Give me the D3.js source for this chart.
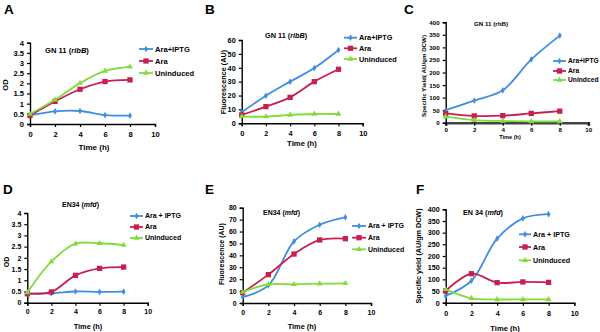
<!DOCTYPE html>
<html>
<head>
<meta charset="utf-8">
<script src="https://cdn.jsdelivr.net/npm/d3@7"></script>
<style>
  body { margin: 0; background: #fff; }
  text { font-family: "Liberation Sans", Arial, sans-serif; font-weight: bold; fill: #000; }
</style>
</head>
<body>
<div id="chart"></div>
<script>
// sampling times (h) and x ticks
var hours = [0, 2, 4, 6, 8];
var xTicks = [0, 2, 4, 6, 8, 10];

// y tick labels
var odTicks = [0, 0.5, 1, 1.5, 2, 2.5, 3, 3.5, 4];
var fluoTicksB = [0, 10, 20, 30, 40, 50, 60];
var fluoTicksE = [0, 10, 20, 30, 40, 50, 60, 70, 80];
var yieldTicks = [0, 50, 100, 150, 200, 250, 300, 350, 400];

// legend labels
var legendGN = ["Ara+IPTG", "Ara", "Uninduced"];
var legendGNc = ["Ara+IPTG", "Ara", "Unindced"];
var legendEN = ["Ara + IPTG", "Ara", "Uninduced"];

// A: GN 11 (ribB) OD
var odGNiptg = [0.42, 0.62, 0.64, 0.44, 0.41];
var odGNara = [0.42, 1.11, 1.71, 2.09, 2.17];
var odGNun = [0.49, 1.19, 2.01, 2.61, 2.81];
// B: GN 11 (ribB) fluorescence
var flGNiptg = [7.9, 19.9, 30, 39.8, 52.8];
var flGNara = [6, 12, 18.7, 30, 38.9];
var flGNun = [4.8, 4.8, 6, 6.7, 6.7];
// C: GN 11 (ribB) specific yield
var syGNiptg = [50, 88, 129, 252, 347];
var syGNara = [37, 27, 28, 37, 46];
var syGNun = [24, 10, 7, 5, 5];
// D: EN34 (mfd) OD
var odENiptg = [0.42, 0.42, 0.5, 0.48, 0.49];
var odENara = [0.4, 0.48, 1.22, 1.53, 1.59];
var odENun = [0.45, 1.83, 2.63, 2.65, 2.57];
// E: EN34 (mfd) fluorescence
var flENiptg = [5, 14.8, 51.7, 65.7, 71.9];
var flENara = [8.7, 23.8, 41.1, 52.9, 54];
var flENun = [9.2, 15.7, 15.7, 16.2, 16.5];
// F: EN 34 (mfd) specific yield
var syENiptg = [29, 94, 274, 361, 379];
var syENara = [50, 124, 86, 89, 87];
var syENun = [57, 19, 14, 14, 14];

var colors = ["#3f8ee0", "#c91f4f", "#7fdc3a"];
var shapes = [d3.symbolDiamond, d3.symbolSquare, d3.symbolTriangle];
var shapeSize = [13, 28, 15];

var svg = d3.select("#chart").append("svg")
    .attr("width", 600)
    .attr("height", 332);

var panels = [
  { letter: "A", lx: 4, ly: 14, x0: 30, x1: 155, yTop: 42.7, yBot: 124, yMax: 4, yTicks: odTicks,
    series: [odGNiptg, odGNara, odGNun], names: legendGN, fs: 7.6,
    title: ["GN 11 (", "ribB", ")"], tx: 45, ty: 53,
    legX: 139, legY: [49, 61, 73], legW: 14,
    yLabel: "OD", ylx: 8, yly: 85, xlx: 94, xly: 150, tickY: 137 },
  { letter: "B", lx: 205, ly: 14, x0: 241.7, x1: 362.7, yTop: 40, yBot: 123.3, yMax: 60, yTicks: fluoTicksB,
    series: [flGNiptg, flGNara, flGNun], names: legendGN, fs: 7.3,
    title: ["GN 11 (", "ribB", ")"], tx: 265, ty: 37.5,
    legX: 344, legY: [37.7, 48.3, 59], legW: 13,
    yLabel: "Fluorescence (AU)", ylx: 226, yly: 82, xlx: 302, xly: 146, tickY: 136 },
  { letter: "C", lx: 404, ly: 14, x0: 445.7, x1: 588.3, yTop: 22.3, yBot: 122.7, yMax: 400, yTicks: yieldTicks,
    series: [syGNiptg, syGNara, syGNun], names: legendGNc, fs: 6.2, thickX: true,
    title: ["GN 11 (", "rhB", ")"], tx: 474, ty: 26, titleUpright: true,
    legX: 553, legY: [61, 71, 80], legW: 13, legFs: 6.7,
    yLabel: "Specific Yield( AU/gm DCW)", ylx: 426, yly: 76, xlx: 510, xly: 139, tickY: 132, xlFs: 5.6 },
  { letter: "D", lx: 3, ly: 194, x0: 27.3, x1: 147.7, yTop: 213, yBot: 302.7, yMax: 4, yTicks: odTicks,
    series: [odENiptg, odENara, odENun], names: legendEN, fs: 7,
    title: ["EN34 (", "mfd", ")"], tx: 62, ty: 206.5,
    legX: 130, legY: [216, 227, 238], legW: 13,
    yLabel: "OD", ylx: 9, yly: 262, xlx: 88, xly: 329, tickY: 314 },
  { letter: "E", lx: 205, ly: 194, x0: 242.7, x1: 371, yTop: 207.7, yBot: 303, yMax: 80, yTicks: fluoTicksE,
    series: [flENiptg, flENara, flENun], names: legendEN, fs: 7,
    title: ["EN34 (", "mfd", ")"], tx: 263, ty: 214.7,
    legX: 352, legY: [226, 237.7, 249.3], legW: 14,
    yLabel: "Fluorescence (AU)", ylx: 223.5, yly: 254, xlx: 302, xly: 329, tickY: 315 },
  { letter: "F", lx: 416, ly: 194, x0: 445.7, x1: 574.3, yTop: 209.3, yBot: 302.7, yMax: 400, yTicks: yieldTicks,
    series: [syENiptg, syENara, syENun], names: legendEN, fs: 7.2,
    title: ["EN 34 (", "mfd", ")"], tx: 463, ty: 214.7,
    legX: 519, legY: [234.3, 247, 260.3], legW: 12,
    yLabel: "Specific yield (AU/gm DCW)", ylx: 421, yly: 256, xlx: 505, xly: 330.5, tickY: 316 }
];

panels.forEach(function (p) {
  var g = svg.append("g").attr("class", "panel-" + p.letter);
  var x = d3.scaleLinear().domain([0, 10]).range([p.x0, p.x1]);
  var y = d3.scaleLinear().domain([0, p.yMax]).range([p.yBot, p.yTop]);

  // panel letter
  g.append("text")
    .attr("x", p.lx).attr("y", p.ly)
    .style("font-size", "13.5px")
    .text(p.letter);

  // axes
  var gx = g.append("g")
    .attr("transform", `translate(0,${p.yBot})`)
    .call(d3.axisBottom(x).tickValues(xTicks).tickSize(3).tickPadding(3).tickFormat(d3.format("d")));
  var gy = g.append("g")
    .attr("transform", `translate(${p.x0},0)`)
    .call(d3.axisLeft(y).tickValues(p.yTicks).tickSize(3).tickPadding(3).tickFormat(d => String(d)));

  [gx, gy].forEach(function (a) {
    a.selectAll(".domain").attr("stroke", "#000").attr("stroke-width", 1.4);
    a.selectAll(".tick line").attr("stroke", "#000").attr("stroke-width", 1.2);
    a.selectAll(".tick text")
      .style("font-family", "'Liberation Sans', Arial, sans-serif")
      .style("font-weight", "bold")
      .style("font-size", p.fs + "px")
      .attr("fill", "#000");
  });
  gx.selectAll(".tick text").attr("dy", null).attr("y", p.tickY - p.yBot);
  if (p.thickX) {
    gx.select(".domain").attr("stroke", "#444").attr("stroke-width", 2.6);
  }

  // series lines + markers
  var line = d3.line()
    .x((d, i) => x(hours[i]))
    .y(d => y(d))
    .curve(d3.curveCatmullRom.alpha(0.5));

  p.series.forEach(function (vals, si) {
    g.append("path")
      .datum(vals)
      .attr("fill", "none")
      .attr("stroke", colors[si])
      .attr("stroke-width", 1.8)
      .attr("d", line);
    g.selectAll(".mk" + si)
      .data(vals)
      .join("path")
      .attr("class", "mk" + si)
      .attr("transform", (d, i) => `translate(${x(hours[i])},${y(d)})`)
      .attr("d", d3.symbol().type(shapes[si]).size(shapeSize[si]))
      .attr("fill", colors[si]);
  });

  // title
  var t = g.append("text")
    .attr("x", p.tx).attr("y", p.ty)
    .style("font-size", p.fs + "px");
  t.append("tspan").text(p.title[0]);
  t.append("tspan").style("font-style", p.titleUpright ? "normal" : "italic").text(p.title[1]);
  t.append("tspan").text(p.title[2]);

  // legend
  p.names.forEach(function (nm, si) {
    var ly = p.legY[si];
    g.append("line")
      .attr("x1", p.legX).attr("x2", p.legX + p.legW)
      .attr("y1", ly).attr("y2", ly)
      .attr("stroke", colors[si]).attr("stroke-width", 1.8);
    g.append("path")
      .attr("transform", `translate(${p.legX + p.legW / 2},${ly})`)
      .attr("d", d3.symbol().type(shapes[si]).size(shapeSize[si]))
      .attr("fill", colors[si]);
    g.append("text")
      .attr("x", p.legX + p.legW + 2).attr("y", ly)
      .attr("dy", "0.35em")
      .style("font-size", (p.legFs || p.fs) + "px")
      .text(nm);
  });

  // axis titles
  g.append("text")
    .attr("transform", `translate(${p.ylx},${p.yly}) rotate(-90)`)
    .attr("text-anchor", "middle")
    .style("font-size", p.fs + "px")
    .text(p.yLabel);
  g.append("text")
    .attr("x", p.xlx).attr("y", p.xly)
    .attr("text-anchor", "middle")
    .style("font-size", (p.xlFs || p.fs + 0.4) + "px")
    .text("Time (h)");
});
</script>
</body>
</html>
